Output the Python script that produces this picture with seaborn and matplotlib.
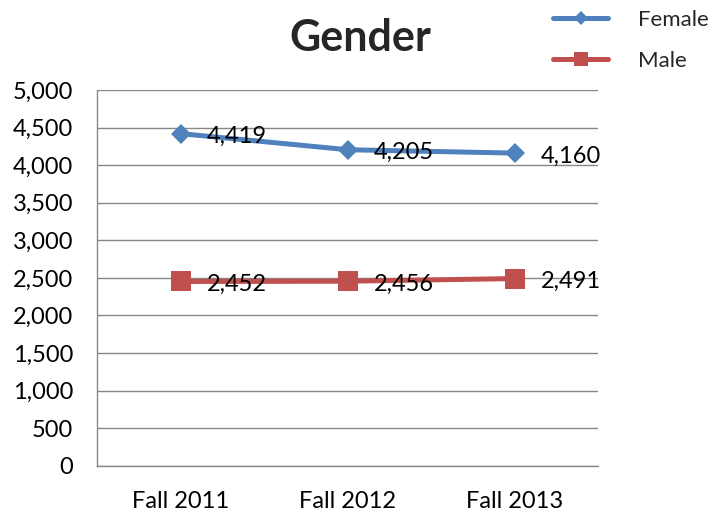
import pandas as pd
import numpy as np
import matplotlib
matplotlib.use('Agg')
import matplotlib.pyplot as plt
import seaborn as sns

terms = ['Fall 2011', 'Fall 2012', 'Fall 2013']
female = [4419, 4205, 4160]
male = [2452, 2456, 2491]

sns.set_style('white')
plt.rcParams['font.family'] = ['Lato', 'DejaVu Sans']

fig = plt.figure(figsize=(7.13, 5.17), dpi=100)
ax = fig.add_axes([0.136, 0.099, 0.703, 0.727])

blue = '#4F81BD'
red = '#C0504D'

sns.lineplot(x=terms, y=female, ax=ax, color=blue, marker='D', markersize=10,
             linewidth=3.6, markeredgewidth=0, label='Female', sort=False)
sns.lineplot(x=terms, y=male, ax=ax, color=red, marker='s', markersize=14,
             linewidth=3.6, markeredgewidth=0, label='Male', sort=False)

for vals in (female, male):
    for i, v in enumerate(vals):
        ax.annotate(f'{v:,}', (i, v), xytext=(19, -2), textcoords='offset points',
                    ha='left', va='center', fontsize=17, color='black')

ax.set_xlim(-0.5, 2.5)
ax.set_ylim(0, 5000)
ax.set_yticks(np.arange(0, 5001, 500))
ax.set_yticklabels([f'{t:,}' for t in range(0, 5001, 500)])
ax.yaxis.grid(True, color='#878787', linewidth=1)
ax.set_axisbelow(True)
for s in ['top', 'right']:
    ax.spines[s].set_visible(False)
for s in ['left', 'bottom']:
    ax.spines[s].set_color('#878787')
    ax.spines[s].set_linewidth(1)
ax.tick_params(axis='both', length=0, labelsize=17, colors='black')
ax.tick_params(axis='x', pad=18)
ax.tick_params(axis='y', pad=17)

ax.set_title('Gender', fontsize=31, fontweight='bold', pad=28, x=0.525)

ax.get_legend().remove()
handles, labels = ax.get_legend_handles_labels()
fig.legend(handles, labels, loc='upper left', bbox_to_anchor=(0.748, 1.02),
           frameon=False, fontsize=16, handlelength=2.45, labelspacing=0.95,
           handletextpad=1.35, markerscale=0.7)

fig.savefig('out.png', dpi=100)
